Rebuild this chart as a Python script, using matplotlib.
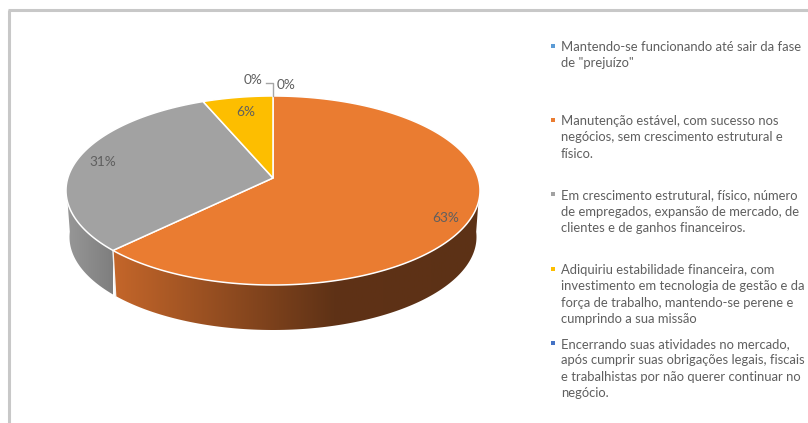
import numpy as np
import matplotlib
matplotlib.use('Agg')
import matplotlib.pyplot as plt
from matplotlib.colors import LinearSegmentedColormap
from matplotlib.patches import Polygon

# Pie values (percent), clockwise from the top
categories = [
    'Mantendo-se funcionando até sair da fase\nde "prejuízo"',
    'Manutenção estável, com sucesso nos\nnegócios, sem crescimento estrutural e\nfísico.',
    'Em crescimento estrutural, físico, número\nde empregados, expansão de mercado, de\nclientes e de ganhos financeiros.',
    'Adiquiriu estabilidade financeira, com\ninvestimento em tecnologia de gestão e da\nforça de trabalho, mantendo-se perene e\ncumprindo a sua missão',
    'Encerrando suas atividades no mercado,\napós cumprir suas obrigações legais, fiscais\ne trabalhistas por não querer continuar no\nnegócio.',
]
values = [0, 63.4, 30.8, 5.8, 0]
pct_labels = ['0%', '63%', '31%', '6%', '0%']
colors = ['#5B9BD5', '#EA7C31', '#A2A2A2', '#FDBE00', '#4472C4']

W, H = 808, 423
fig = plt.figure(figsize=(W / 100, H / 100), dpi=100)
ax = fig.add_axes([0, 0, 1, 1])
ax.set_xlim(0, W)
ax.set_ylim(H, 0)
ax.axis('off')

# chart frame
frame = '#C8C8C8'
ax.plot([8.8, 8.8], [10, H], color=frame, lw=2.2, solid_capstyle='butt')
ax.plot([7.5, W], [10.5, 10.5], color=frame, lw=2.2, solid_capstyle='butt')

# pie geometry, in pixels
cx, cy, rx, ry = 273, 190.5, 207, 94.5
apex = (273, 178)
bot_cy, bot_rx, bot_ry = 237, 203.5, 93


def warp(t):
    # 3D perspective shifts the slice edges a little
    return t - 0.056 * np.sin(t)


def top_pt(t):
    t = warp(t)
    return cx + rx * np.sin(t), cy - ry * np.cos(t)


def bot_pt(t):
    t = warp(t)
    return cx + bot_rx * np.sin(t), bot_cy - bot_ry * np.cos(t)


edges = 2 * np.pi * np.cumsum([0] + values) / sum(values)

# side walls with horizontal gradients
side_maps = {
    1: LinearSegmentedColormap.from_list('o', [(0, '#C4662A'), (0.6, '#5F3216'), (1, '#5C3116')]),
    2: LinearSegmentedColormap.from_list('g', [(0, '#989898'), (1, '#7E7E7E')]),
}
grad = np.linspace(0, 1, 256).reshape(1, -1)
for i, cmap in side_maps.items():
    # only the part of the slice that faces the viewer
    t0, t1 = max(edges[i], np.pi / 2), min(edges[i + 1], 3 * np.pi / 2)
    ts = np.linspace(t0, t1, 120)
    xt, yt = top_pt(ts)
    xb, yb = bot_pt(ts[::-1])
    poly = Polygon(np.column_stack([np.r_[xt, xb], np.r_[yt, yb]]), closed=True,
                   fc='none', ec='none', transform=ax.transData)
    ax.add_patch(poly)
    x0, x1 = xt.min(), xt.max()
    im = ax.imshow(grad, cmap=cmap, extent=[x0, x1, H, 0], aspect='auto', zorder=2)
    im.set_clip_path(poly)
ax.set_xlim(0, W)
ax.set_ylim(H, 0)

# white separator on the side wall
xa, ya = top_pt(edges[2])
xb_, yb_ = bot_pt(edges[2])
ax.plot([xa, xb_], [ya, yb_], color='#F2F2F2', lw=1, zorder=3)

# top faces
for i, v in enumerate(values):
    if v == 0:
        continue
    ts = np.linspace(edges[i], edges[i + 1], 300)
    xt, yt = top_pt(ts)
    pts = np.column_stack([np.r_[apex[0], xt], np.r_[apex[1], yt]])
    ax.add_patch(Polygon(pts, closed=True, fc=colors[i], ec='white', lw=1.1,
                         joinstyle='round', zorder=4))

# data labels
txt = '#5F5F5F'
lab_font = dict(family='Lato', fontsize=9.8, color=txt, ha='center', va='center', zorder=6)
ax.text(446, 217.5, pct_labels[1], **lab_font)
ax.text(103, 162.5, pct_labels[2], **lab_font)
ax.text(246, 112, pct_labels[3], **lab_font)
ax.text(253, 79.5, pct_labels[0], **lab_font)
ax.text(286, 85, pct_labels[4], **lab_font)
ax.plot([266, 273, 273], [83, 83, 96], color='#A6A6A6', lw=1, zorder=5)

# legend
leg_y = [46, 120, 194.5, 269, 343]
line_h = 16.5
for name, c, y in zip(categories, colors, leg_y):
    ax.plot([553], [y], marker='s', ms=3.4, color=c, mew=0, zorder=6)
    for j, line in enumerate(name.split('\n')):
        ax.text(561, y + 0.7 + j * line_h, line, family='Lato', fontsize=9.4, color=txt,
                ha='left', va='center', zorder=6)

fig.savefig('out.png', dpi=100)
